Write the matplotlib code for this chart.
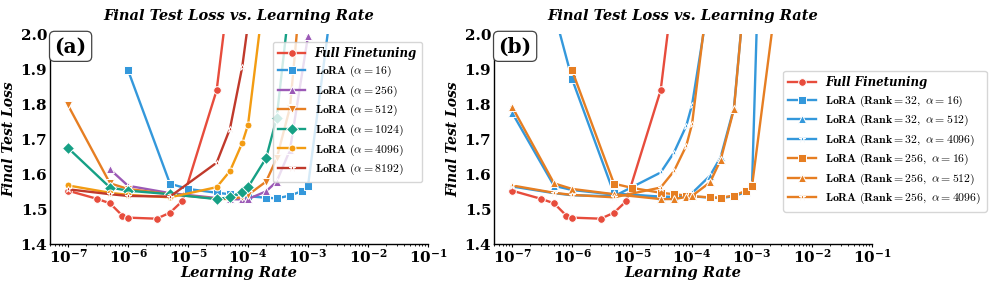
import numpy as np
import matplotlib
matplotlib.use("Agg")
import matplotlib.pyplot as plt
from matplotlib.ticker import FuncFormatter
from matplotlib.font_manager import FontProperties

plt.rcParams.update({
    "font.family": "serif",
    "font.serif": ["DejaVu Serif"],
    "mathtext.fontset": "dejavuserif",
    "axes.linewidth": 1.0,
})

# ── data ─────────────────────────────────────────────────────────────────────
# panel (a): different alpha
ft_lr   = [1e-7, 3e-7, 5e-7, 8e-7, 1e-6, 3e-6, 5e-6, 8e-6, 3e-5, 5e-5]
ft_loss = [1.553, 1.530, 1.517, 1.482, 1.476, 1.473, 1.490, 1.523, 1.840, 2.15]

a16_lr   = [1e-6, 5e-6, 1e-5, 3e-5, 5e-5, 8e-5, 1e-4, 2e-4, 3e-4, 5e-4, 8e-4, 1e-3, 3e-3]
a16_loss = [1.897, 1.573, 1.558, 1.547, 1.543, 1.540, 1.537, 1.533, 1.531, 1.539, 1.552, 1.566, 2.2]

a256_lr   = [5e-7, 1e-6, 5e-6, 3e-5, 5e-5, 8e-5, 1e-4, 2e-4, 3e-4, 5e-4, 1e-3]
a256_loss = [1.614, 1.567, 1.546, 1.532, 1.529, 1.528, 1.529, 1.551, 1.579, 1.669, 1.995]

a512_lr   = [1e-7, 5e-7, 1e-6, 5e-6, 3e-5, 5e-5, 8e-5, 1e-4, 2e-4, 3e-4, 5e-4, 8e-4]
a512_loss = [1.797, 1.574, 1.558, 1.543, 1.530, 1.529, 1.535, 1.541, 1.579, 1.645, 1.79, 2.17]

a1024_lr   = [1e-7, 5e-7, 1e-6, 5e-6, 3e-5, 5e-5, 8e-5, 1e-4, 2e-4, 3e-4, 5e-4]
a1024_loss = [1.675, 1.562, 1.553, 1.543, 1.529, 1.534, 1.549, 1.563, 1.646, 1.760, 2.10]

a4096_lr   = [1e-7, 5e-7, 1e-6, 5e-6, 3e-5, 5e-5, 8e-5, 1e-4, 2e-4]
a4096_loss = [1.568, 1.547, 1.541, 1.534, 1.563, 1.609, 1.689, 1.741, 2.16]

a8192_lr   = [1e-7, 5e-7, 1e-6, 5e-6, 3e-5, 5e-5, 8e-5, 1e-4]
a8192_loss = [1.557, 1.543, 1.538, 1.536, 1.633, 1.730, 1.906, 2.03]

# panel (b): rank 32 vs rank 256
b32_16_lr   = [5e-7, 1e-6, 5e-6, 3e-5, 5e-5, 8e-5, 1e-4, 2e-4, 3e-4, 5e-4, 8e-4, 1e-3, 2e-3]
b32_16_loss = [2.065, 1.872, 1.545, 1.536, 1.535, 1.536, 1.537, 1.533, 1.532, 1.537, 1.550, 1.569, 3.3]

b32_512_lr   = [1e-7, 5e-7, 1e-6, 5e-6, 3e-5, 5e-5, 8e-5, 1e-4, 2e-4, 3e-4, 5e-4, 8e-4]
b32_512_loss = [1.776, 1.567, 1.555, 1.542, 1.535, 1.535, 1.540, 1.546, 1.596, 1.649, 1.79, 2.17]

b32_4096_lr   = [1e-7, 5e-7, 1e-6, 5e-6, 3e-5, 5e-5, 8e-5, 1e-4, 2e-4]
b32_4096_loss = [1.565, 1.546, 1.540, 1.537, 1.605, 1.662, 1.738, 1.798, 2.12]

b256_16_lr   = [1e-6, 5e-6, 1e-5, 3e-5, 5e-5, 8e-5, 1e-4, 2e-4, 3e-4, 5e-4, 8e-4, 1e-3, 3e-3]
b256_16_loss = [1.897, 1.573, 1.561, 1.547, 1.543, 1.539, 1.537, 1.534, 1.533, 1.539, 1.553, 1.566, 2.2]

b256_512_lr   = [1e-7, 5e-7, 1e-6, 5e-6, 3e-5, 5e-5, 8e-5, 1e-4, 2e-4, 3e-4, 5e-4, 8e-4]
b256_512_loss = [1.793, 1.574, 1.558, 1.543, 1.529, 1.529, 1.535, 1.538, 1.577, 1.641, 1.786, 2.17]

b256_4096_lr   = [1e-7, 5e-7, 1e-6, 5e-6, 3e-5, 5e-5, 8e-5, 1e-4, 2e-4]
b256_4096_loss = [1.568, 1.547, 1.541, 1.534, 1.562, 1.609, 1.681, 1.743, 2.16]

x_ticks = [1e-7, 1e-6, 1e-5, 1e-4, 1e-3, 1e-2, 1e-1]
y_ticks = [1.4, 1.5, 1.6, 1.7, 1.8, 1.9, 2.0]

RED, BLUE, PURPLE, ORANGE = "#e74c3c", "#3498db", "#9b59b6", "#e67e22"
GREEN, YELLOW, DARKRED = "#16a085", "#f39c12", "#c0392b"

series_a = [
    (ft_lr, ft_loss, RED, "o", 5.5, "Full Finetuning"),
    (a16_lr, a16_loss, BLUE, "s", 6, r"$\mathbf{LoRA}\ (\alpha = 16)$"),
    (a256_lr, a256_loss, PURPLE, "^", 5.5, r"$\mathbf{LoRA}\ (\alpha = 256)$"),
    (a512_lr, a512_loss, ORANGE, "v", 5.5, r"$\mathbf{LoRA}\ (\alpha = 512)$"),
    (a1024_lr, a1024_loss, GREEN, "D", 6, r"$\mathbf{LoRA}\ (\alpha = 1024)$"),
    (a4096_lr, a4096_loss, YELLOW, "o", 5, r"$\mathbf{LoRA}\ (\alpha = 4096)$"),
    (a8192_lr, a8192_loss, DARKRED, "*", 5, r"$\mathbf{LoRA}\ (\alpha = 8192)$"),
]
series_b = [
    (ft_lr, ft_loss, RED, "o", 5.5, "Full Finetuning"),
    (b32_16_lr, b32_16_loss, BLUE, "s", 6, r"$\mathbf{LoRA}\ (\mathbf{Rank} = 32,\ \alpha = 16)$"),
    (b32_512_lr, b32_512_loss, BLUE, "^", 5.5, r"$\mathbf{LoRA}\ (\mathbf{Rank} = 32,\ \alpha = 512)$"),
    (b32_4096_lr, b32_4096_loss, BLUE, "*", 5, r"$\mathbf{LoRA}\ (\mathbf{Rank} = 32,\ \alpha = 4096)$"),
    (b256_16_lr, b256_16_loss, ORANGE, "s", 6, r"$\mathbf{LoRA}\ (\mathbf{Rank} = 256,\ \alpha = 16)$"),
    (b256_512_lr, b256_512_loss, ORANGE, "^", 5.5, r"$\mathbf{LoRA}\ (\mathbf{Rank} = 256,\ \alpha = 512)$"),
    (b256_4096_lr, b256_4096_loss, ORANGE, "*", 5, r"$\mathbf{LoRA}\ (\mathbf{Rank} = 256,\ \alpha = 4096)$"),
]

fig = plt.figure(figsize=(9.96, 2.83), dpi=100)
ax_a = fig.add_axes([0.0502, 0.137, 0.3795, 0.742])
ax_b = fig.add_axes([0.4960, 0.137, 0.3795, 0.742])

xfmt = FuncFormatter(lambda v, p: rf"$\mathbf{{10^{{{int(round(np.log10(v)))}}}}}$")
yfmt = FuncFormatter(lambda v, p: f"{v:.1f}")
lab_kw = dict(fontweight="bold", fontstyle="italic")


def draw(ax, series, tag, leg_kw):
    for lr, loss, col, mk, ms, lab in series:
        ax.plot(lr, loss, color=col, marker=mk, ms=ms, lw=1.7,
                mec="white", mew=0.7, label=lab)
    ax.set_xscale("log")
    ax.set_xticks(x_ticks)
    ax.set_yticks(y_ticks)
    ax.set_xlim(5e-8, 1e-1)
    ax.set_ylim(1.4, 2.0)
    ax.xaxis.set_major_formatter(xfmt)
    ax.yaxis.set_major_formatter(yfmt)
    ax.tick_params(axis="both", labelsize=11)
    ax.tick_params(axis="x", which="major", length=2.5, pad=0)
    ax.tick_params(axis="x", which="minor", length=1.5, width=0.6)
    ax.tick_params(axis="y", length=0, pad=2)
    for t in ax.get_yticklabels():
        t.set_fontweight("bold")
    for s in ("top", "right"):
        ax.spines[s].set_visible(False)
    ax.set_title("Final Test Loss vs. Learning Rate", pad=10, fontsize=10.5, **lab_kw)
    ax.set_xlabel("Learning Rate", labelpad=0, fontsize=10.5, **lab_kw)
    ax.set_ylabel("Final Test Loss", labelpad=3, fontsize=10, **lab_kw)
    ax.text(0.012, 0.99, f"({tag})", transform=ax.transAxes,
            ha="left", va="top", fontsize=14.5, fontweight="bold",
            bbox=dict(boxstyle="round,pad=0.25", fc="white", ec="#444", lw=0.9))
    leg = ax.legend(prop=FontProperties(size=8.5, math_fontfamily="cm"),
                    framealpha=0.8, edgecolor="#cccccc",
                    handlelength=2.3, labelspacing=0.36, borderpad=0.45,
                    handletextpad=0.8, **leg_kw)
    t0 = leg.get_texts()[0]
    t0.set_fontweight("bold")
    t0.set_fontstyle("italic")


draw(ax_a, series_a, "a", dict(loc="upper right", bbox_to_anchor=(0.985, 0.965),
                               borderaxespad=0))
draw(ax_b, series_b, "b", dict(loc="upper left", bbox_to_anchor=(0.765, 0.825),
                               borderaxespad=0))

fig.savefig("out.png", dpi=100)
